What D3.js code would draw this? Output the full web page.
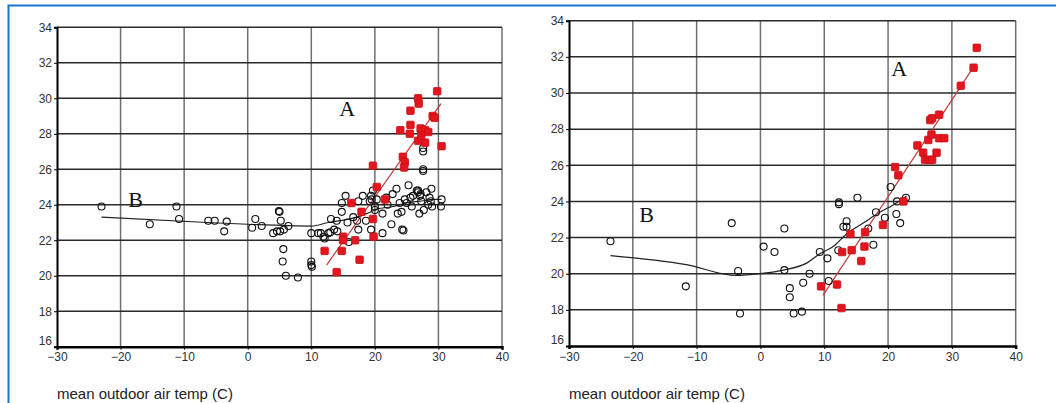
<!DOCTYPE html>
<html>
<head>
<meta charset="utf-8">
<script src="https://cdn.jsdelivr.net/npm/d3@7"></script>
<style>
  body { margin: 0; background: #fff; }
  svg { display: block; }
</style>
</head>
<body>
<svg id="chart" width="1056" height="403"></svg>
<script>
// ---- data ----
const xTicks = [-30, -20, -10, 0, 10, 20, 30, 40];
const yTicks = [16, 18, 20, 22, 24, 26, 28, 30, 32, 34];

// left panel
const leftCircles = [
  [-23, 23.9], [-15.4, 22.9], [-11.2, 23.9], [-10.8, 23.2], [-6.2, 23.1], [-5.2, 23.1],
  [-3.7, 22.5], [-3.3, 23.05], [0.7, 22.7], [1.2, 23.2], [2.2, 22.8], [4.0, 22.4],
  [4.6, 22.5], [5.1, 22.5], [5.0, 23.6], [4.9, 23.65], [5.2, 23.1], [5.7, 22.6], [5.6, 21.5],
  [5.5, 20.8], [6.0, 20.0], [6.4, 22.8], [7.9, 19.9], [10, 20.8], [10, 20.6], [10.1, 20.5],
  [10.0, 22.4], [11.1, 22.4], [11.5, 22.4], [11.9, 22.2], [12.1, 22.1], [12.7, 22.4], [13.0, 22.45],
  [13.1, 23.2], [13.6, 22.6], [14.0, 23.1], [14.1, 22.5], [14.8, 23.6], [14.8, 24.1],
  [15.4, 24.5], [15.7, 23.0], [15.9, 21.9], [17.4, 24.2], [17.2, 23.1], [17.4, 22.6], [18.1, 24.5],
  [18.6, 23.1], [19.2, 24.2], [19.4, 24.5], [19.5, 24.3], [19.4, 22.6], [19.7, 24.8],
  [20.0, 23.9], [20.0, 23.7], [20.3, 24.3], [21.2, 23.5], [21.2, 22.4], [21.8, 24.4],
  [22.6, 22.9], [22.8, 24.6], [23.4, 24.9], [23.6, 23.5], [23.9, 24.1], [24.3, 22.6],
  [24.5, 22.55], [24.2, 23.6], [24.7, 24.3], [25.0, 24.1], [25.3, 25.1], [25.6, 24.4],
  [26.0, 24.5], [26.6, 24.8], [26.8, 24.7], [27.0, 23.5], [27.1, 24.5], [27.3, 24.2],
  [27.6, 27.2], [27.6, 27.0], [27.6, 26.0], [27.6, 25.9], [27.7, 23.7], [28.1, 24.7],
  [28.4, 24.0], [28.6, 24.4], [28.8, 24.2], [28.9, 24.9], [29.0, 23.9], [30.5, 24.3],
  [30.4, 23.9], [26.8, 24.8], [27.2, 24.6], [25.8, 23.9], [22.0, 24.0], [16.6, 23.3]
];
const leftSquares = [
  [12.1, 21.4], [14.0, 20.2], [14.8, 21.4], [15.0, 22.2], [15.0, 22.0], [16.3, 24.1],
  [16.9, 22.0], [17.6, 20.9], [17.9, 23.6], [19.7, 26.2], [19.7, 23.2], [19.8, 22.2],
  [20.3, 25.0], [21.6, 24.3], [24.0, 28.2], [24.4, 26.7], [24.7, 26.4], [24.6, 26.1],
  [25.5, 28.0], [25.6, 28.5], [25.6, 29.3], [26.8, 30.0], [26.9, 29.7], [26.8, 27.6],
  [27.2, 28.3], [27.3, 27.9], [27.9, 28.2], [28.4, 28.1], [27.9, 27.5], [29.1, 29.0],
  [29.4, 28.9], [29.8, 30.4], [30.5, 27.3]
];
const leftLineA = [[12.4, 20.6], [30.4, 29.7]];
const leftLineB = [
  [-23, 23.3], [-6.4, 23.0], [0, 22.9], [10, 22.8], [12.7, 23.0], [16.1, 23.2],
  [18.7, 23.5], [20.3, 23.75], [22.9, 23.9], [25, 24.1], [27.1, 24.2], [29.2, 24.3], [30.5, 24.3]
];

// right panel
const rightCircles = [
  [-23.5, 21.8], [-11.7, 19.3], [-4.5, 22.8], [-3.5, 20.15], [-3.2, 17.8], [0.5, 21.5],
  [2.2, 21.2], [3.75, 22.5], [3.75, 20.2], [4.6, 19.2], [4.6, 18.7], [5.2, 17.8],
  [6.5, 17.9], [6.7, 19.5], [7.7, 20.0], [9.3, 21.2], [10.5, 20.85], [10.7, 19.6],
  [12.2, 21.3], [12.3, 23.85], [12.3, 23.95], [13.0, 22.6], [13.5, 22.9], [13.5, 22.6],
  [15.2, 24.2], [16.9, 22.5], [17.7, 21.6], [18.1, 23.4], [19.5, 23.1], [20.4, 24.8],
  [21.3, 23.3], [21.4, 24.0], [21.9, 22.8], [22.8, 24.2]
];
const rightSquares = [
  [9.5, 19.3], [12.0, 19.4], [12.7, 18.1], [12.8, 21.2], [14.1, 22.2], [14.3, 21.3],
  [15.8, 20.7], [16.3, 21.5], [16.4, 22.3], [19.2, 22.7], [21.1, 25.9], [21.6, 25.45],
  [22.4, 24.0], [24.6, 27.1], [25.5, 26.7], [25.8, 26.3], [26.3, 27.4], [26.5, 26.3],
  [26.9, 26.3], [26.6, 28.5], [26.9, 28.6], [26.8, 27.7], [27.6, 26.7], [28.0, 28.8],
  [28.0, 27.5], [28.8, 27.5], [31.4, 30.4], [33.4, 31.4], [33.9, 32.5]
];
const rightLineA = [[9.8, 18.8], [33.7, 31.6]];
const rightLineB = [
  [-23.5, 21.0], [-11.6, 20.5], [-3.8, 19.9], [-0.1, 20.0], [3.6, 20.2], [7.3, 20.6],
  [9.3, 21.1], [11.4, 21.5], [13.5, 22.2], [16.1, 22.8], [18.7, 23.4], [20.8, 23.8], [22.9, 24.3]
];

const xLabel = "mean outdoor air temp (C)";

const svg = d3.select("#chart");

// blue frame
svg.append("rect")
  .attr("x", 8.5).attr("y", 5.5)
  .attr("width", 1060).attr("height", 420)
  .attr("fill", "none")
  .attr("stroke", "#1a74d2")
  .attr("stroke-width", 2);

function drawPanel(cfg) {
  const x = d3.scaleLinear().domain([-30, 40]).range([cfg.left, cfg.right]);
  const y = d3.scaleLinear().domain([16, 34]).range([cfg.bottom, cfg.top]);
  const g = svg.append("g");

  // grid
  g.append("g").selectAll("line").data(xTicks.slice(1)).join("line")
    .attr("x1", (d) => x(d)).attr("x2", (d) => x(d))
    .attr("y1", y(16)).attr("y2", y(34))
    .attr("stroke", "#707070").attr("stroke-width", 1.5);
  g.append("g").selectAll("line").data(yTicks.slice(1)).join("line")
    .attr("x1", x(-30)).attr("x2", x(40))
    .attr("y1", (d) => y(d)).attr("y2", (d) => y(d))
    .attr("stroke", "#2a2a2a").attr("stroke-width", 1.5);

  // axes
  const yAxis = g.append("g")
    .attr("transform", `translate(${x(-30)},0)`)
    .call(d3.axisLeft(y).tickValues(yTicks).tickSize(3).tickPadding(2));
  yAxis.select(".domain").attr("stroke", "#000").attr("stroke-width", 2);
  // the bottom label sits a little above its tick so it clears the x labels
  yAxis.selectAll(".tick text").filter((d) => d === 16).attr("dy", "-0.2em");
  const xAxis = g.append("g")
    .attr("transform", `translate(0,${y(16)})`)
    .call(d3.axisBottom(x).tickValues(xTicks).tickSize(3).tickPadding(3));
  xAxis.select(".domain").attr("stroke", "#000").attr("stroke-width", 2.5);
  g.selectAll(".tick text")
    .attr("font-family", "Liberation Sans, Arial, sans-serif")
    .attr("font-size", 12)
    .attr("fill", "#333");

  // lines
  const line = d3.line().x((d) => x(d[0])).y((d) => y(d[1])).curve(d3.curveMonotoneX);
  g.append("path").datum(cfg.lineB).attr("d", line)
    .attr("fill", "none").attr("stroke", "#222").attr("stroke-width", 1.2);
  g.append("path").datum(cfg.lineA).attr("d", d3.line().x((d) => x(d[0])).y((d) => y(d[1])))
    .attr("fill", "none").attr("stroke", "#c43a3a").attr("stroke-width", 1.2);

  // circles
  g.append("g").selectAll("circle").data(cfg.circles).join("circle")
    .attr("cx", (d) => x(d[0])).attr("cy", (d) => y(d[1])).attr("r", 3.5)
    .attr("fill", "none").attr("stroke", "#111").attr("stroke-width", 1.1);

  // squares
  const s = 7.5;
  g.append("g").selectAll("rect").data(cfg.squares).join("rect")
    .attr("x", (d) => x(d[0]) - s / 2).attr("y", (d) => y(d[1]) - s / 2)
    .attr("width", s).attr("height", s).attr("rx", 1)
    .attr("fill", "#e3161e").attr("stroke", "#c80f16").attr("stroke-width", 0.8);

  // labels A and B
  g.append("text").attr("x", x(cfg.posA[0])).attr("y", y(cfg.posA[1]))
    .attr("font-family", "Liberation Serif, Times New Roman, serif")
    .attr("font-size", 22).attr("fill", "#111").text("A");
  g.append("text").attr("x", x(cfg.posB[0])).attr("y", y(cfg.posB[1]))
    .attr("font-family", "Liberation Serif, Times New Roman, serif")
    .attr("font-size", 22).attr("fill", "#111").text("B");

  // axis title
  g.append("text").attr("x", cfg.left).attr("y", 399)
    .attr("font-family", "Liberation Sans, Arial, sans-serif")
    .attr("font-size", 15).attr("fill", "#222").text(xLabel);
}

drawPanel({
  left: 57, right: 502, top: 27.3, bottom: 346.7,
  circles: leftCircles, squares: leftSquares, lineA: leftLineA, lineB: leftLineB,
  posA: [14.4, 29.0], posB: [-18.8, 23.87]
});
drawPanel({
  left: 569, right: 1015.7, top: 20.7, bottom: 346,
  circles: rightCircles, squares: rightSquares, lineA: rightLineA, lineB: rightLineB,
  posA: [20.5, 30.95], posB: [-19.0, 22.86]
});
</script>
</body>
</html>
